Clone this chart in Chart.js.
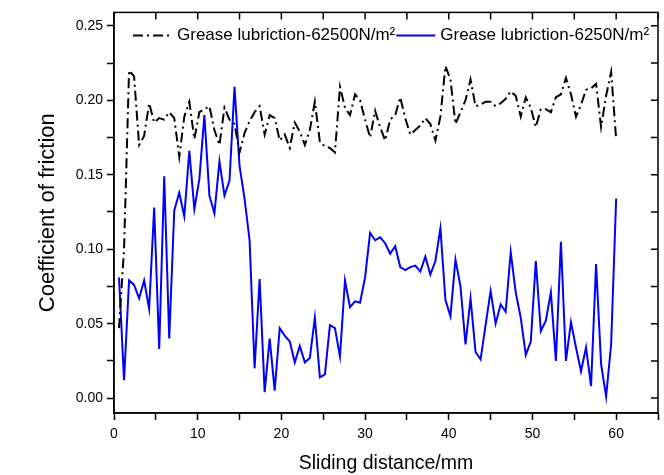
<!DOCTYPE html>
<html>
<head>
<meta charset="utf-8">
<script src="https://cdn.jsdelivr.net/npm/chart.js@4.4.1/dist/chart.umd.min.js"></script>
<style>
    html, body { margin: 0; padding: 0; background: #ffffff; }
    #wrap { width: 664px; height: 475px; position: relative; }
</style>
</head>
<body>
<div id="wrap"><canvas id="cof-graph-canv"></canvas></div>
<script>
// sliding distance (mm), one sample every 0.6 mm
const distance = [
    0.6, 1.2, 1.8, 2.4, 3.0, 3.6, 4.2, 4.8, 5.4, 6.0,
    6.6, 7.2, 7.8, 8.4, 9.0, 9.6, 10.2, 10.8, 11.4, 12.0,
    12.6, 13.2, 13.8, 14.4, 15.0, 15.6, 16.2, 16.8, 17.4, 18.0,
    18.6, 19.2, 19.8, 20.4, 21.0, 21.6, 22.2, 22.8, 23.4, 24.0,
    24.6, 25.2, 25.8, 26.4, 27.0, 27.6, 28.2, 28.8, 29.4, 30.0,
    30.6, 31.2, 31.8, 32.4, 33.0, 33.6, 34.2, 34.8, 35.4, 36.0,
    36.6, 37.2, 37.8, 38.4, 39.0, 39.6, 40.2, 40.8, 41.4, 42.0,
    42.6, 43.2, 43.8, 44.4, 45.0, 45.6, 46.2, 46.8, 47.4, 48.0,
    48.6, 49.2, 49.8, 50.4, 51.0, 51.6, 52.2, 52.8, 53.4, 54.0,
    54.6, 55.2, 55.8, 56.4, 57.0, 57.6, 58.2, 58.8, 59.4, 60.0
];

// grease lubrication, 62500 N/m2
const cofHigh = [
    0.047, 0.100, 0.220, 0.216, 0.170, 0.176, 0.198, 0.185, 0.188, 0.187,
    0.192, 0.188, 0.162, 0.189, 0.199, 0.174, 0.192, 0.194, 0.196, 0.180,
    0.170, 0.195, 0.187, 0.184, 0.165, 0.178, 0.186, 0.192, 0.196, 0.177,
    0.190, 0.188, 0.173, 0.177, 0.168, 0.185, 0.179, 0.170, 0.180, 0.199,
    0.172, 0.169, 0.168, 0.165, 0.209, 0.195, 0.190, 0.204, 0.200, 0.187,
    0.175, 0.193, 0.182, 0.173, 0.187, 0.190, 0.202, 0.188, 0.177, 0.180,
    0.183, 0.188, 0.184, 0.173, 0.189, 0.223, 0.214, 0.184, 0.192, 0.200,
    0.214, 0.196, 0.197, 0.199, 0.199, 0.196, 0.198, 0.201, 0.206, 0.203,
    0.189, 0.202, 0.195, 0.182, 0.194, 0.194, 0.192, 0.202, 0.204, 0.215,
    0.204, 0.189, 0.197, 0.207, 0.208, 0.211, 0.182, 0.203, 0.219, 0.174
];

// grease lubrication, 6250 N/m2
const cofLow = [
    0.081, 0.012, 0.079, 0.076, 0.067, 0.079, 0.060, 0.128, 0.033, 0.149,
    0.040, 0.126, 0.138, 0.122, 0.166, 0.127, 0.147, 0.190, 0.136, 0.124,
    0.159, 0.136, 0.146, 0.209, 0.156, 0.134, 0.106, 0.020, 0.080, 0.004,
    0.040, 0.005, 0.047, 0.042, 0.038, 0.024, 0.035, 0.024, 0.027, 0.054,
    0.014, 0.016, 0.049, 0.047, 0.028, 0.079, 0.061, 0.065, 0.064, 0.081,
    0.111, 0.106, 0.108, 0.104, 0.097, 0.102, 0.088, 0.086, 0.088, 0.089,
    0.085, 0.095, 0.083, 0.092, 0.114, 0.066, 0.055, 0.093, 0.075, 0.036,
    0.067, 0.031, 0.026, 0.049, 0.072, 0.050, 0.063, 0.058, 0.098, 0.071,
    0.054, 0.029, 0.038, 0.092, 0.045, 0.052, 0.071, 0.025, 0.105, 0.025,
    0.051, 0.034, 0.018, 0.034, 0.008, 0.090, 0.023, 0.001, 0.036, 0.134
];

const seriesLabels = ['Grease lubriction-62500N/m\u00B2', 'Grease lubriction-6250N/m\u00B2'];
const xTickLabels = [0, 10, 20, 30, 40, 50, 60];
const yTickLabels = [0.00, 0.05, 0.10, 0.15, 0.20, 0.25];

const black = '#000000';
const blue = '#0000ff';
const fontFamily = "'Liberation Sans', Arial, sans-serif";

const toPoints = (ys) => ys.map((v, i) => ({x: distance[i], y: v}));
const isLabelled = (v, list) => list.some(t => Math.abs(t - v) < 1e-6);

// frame, inward ticks on top/right and the in-plot legend
const frameAndLegend = {
    id: 'frameAndLegend',
    afterDraw(chart) {
        const {ctx, chartArea: a, scales: {x, y}} = chart;
        ctx.save();
        ctx.strokeStyle = black;
        ctx.lineWidth = 1.5;
        ctx.strokeRect(a.left, a.top, a.right - a.left, a.bottom - a.top);
        ctx.beginPath();
        x.ticks.forEach(t => {
            const px = x.getPixelForValue(t.value);
            ctx.moveTo(px, a.top);
            ctx.lineTo(px, a.top + 7);
        });
        y.ticks.forEach(t => {
            const py = y.getPixelForValue(t.value);
            ctx.moveTo(a.right, py);
            ctx.lineTo(a.right - 7, py);
        });
        ctx.stroke();

        // legend
        ctx.font = "17px " + fontFamily;
        ctx.fillStyle = black;
        ctx.textBaseline = 'middle';
        let lx = a.left + 19;
        const ly = a.top + 23;
        chart.data.datasets.forEach(ds => {
            ctx.beginPath();
            ctx.strokeStyle = ds.borderColor;
            ctx.lineWidth = ds.borderWidth;
            ctx.setLineDash(ds.borderDash || []);
            ctx.moveTo(lx, ly);
            ctx.lineTo(lx + 39, ly);
            ctx.stroke();
            ctx.setLineDash([]);
            ctx.fillText(ds.label, lx + 44, ly);
            lx += 44 + ctx.measureText(ds.label).width + 1;
        });
        ctx.restore();
    }
};

const data = {
    datasets: [{
        label: seriesLabels[0],
        data: toPoints(cofHigh),
        borderColor: black,
        borderWidth: 2,
        borderDash: [10, 4, 2, 4],
        pointRadius: 0,
        tension: 0,
        fill: false
        }, {
        label: seriesLabels[1],
        data: toPoints(cofLow),
        borderColor: blue,
        borderWidth: 2,
        pointRadius: 0,
        tension: 0,
        fill: false
        }]
    };

const config = {
    type: 'line',
    data,
    options: {
        animation: false,
        responsive: true,
        maintainAspectRatio: false,
        layout: {
            padding: {left: 0, right: 6, top: 9, bottom: 0}
        },
        scales: {
            x: {
                type: 'linear',
                min: 0,
                max: 65,
                afterFit: (scale) => { scale.height = 62; },
                border: { display: true, color: black, width: 1.5 },
                grid: {
                    display: true,
                    drawOnChartArea: false,
                    drawTicks: true,
                    tickLength: 7,
                    tickColor: black,
                    tickWidth: 1.5
                },
                ticks: {
                    stepSize: 5,
                    includeBounds: false,
                    autoSkip: false,
                    maxRotation: 0,
                    padding: 6,
                    color: black,
                    font: { size: 14, family: fontFamily },
                    callback: (v) => isLabelled(v, xTickLabels) ? String(Math.round(v)) : ''
                },
                title: {
                    display: true,
                    text: 'Sliding distance/mm',
                    color: black,
                    font: { size: 19.5, family: fontFamily },
                    padding: { top: 0, bottom: 0 }
                }
            },
            y: {
                type: 'linear',
                min: -0.01,
                max: 0.259,
                afterFit: (scale) => { scale.width = 114; },
                border: { display: true, color: black, width: 1.5 },
                grid: {
                    display: true,
                    drawOnChartArea: false,
                    drawTicks: true,
                    tickLength: 7,
                    tickColor: black,
                    tickWidth: 1.5
                },
                ticks: {
                    stepSize: 0.025,
                    includeBounds: false,
                    autoSkip: false,
                    padding: 4,
                    color: black,
                    font: { size: 14, family: fontFamily },
                    callback: (v) => isLabelled(v, yTickLabels) ? v.toFixed(2) : ''
                },
                title: {
                    display: true,
                    text: 'Coefficient of friction',
                    color: black,
                    font: { size: 22, family: fontFamily },
                    padding: { top: 35, bottom: 0 }
                }
            }
        },
        plugins: {
            legend: { display: false },
            tooltip: { enabled: false }
        }
    },
    plugins: [frameAndLegend]
    };

var myChart = new Chart(
    document.getElementById('cof-graph-canv'),
    config
);
</script>
</body>
</html>
